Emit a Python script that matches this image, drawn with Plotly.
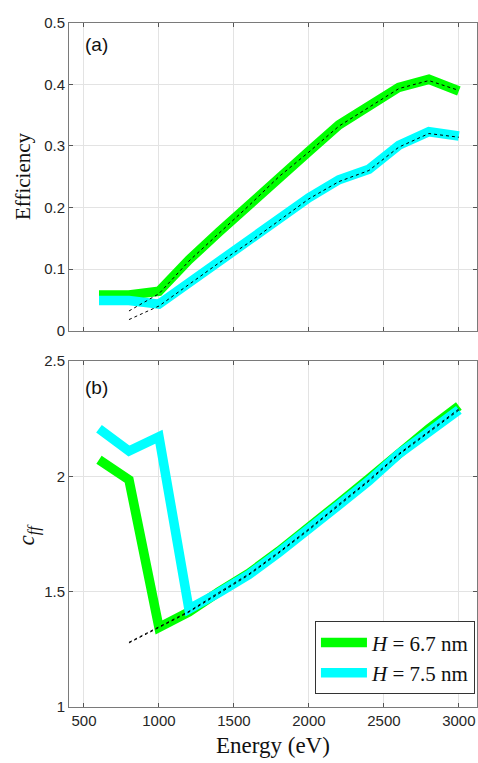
import plotly.graph_objects as go

# Photon energies (eV) of the simulated points and of the fitted curves
energy = [600, 800, 1000, 1200, 1400, 1600, 1800, 2000, 2200, 2400, 2600, 2800, 3000]
fit_energy = [800, 1000, 1200, 1400, 1600, 1800, 2000, 2200, 2400, 2600, 2800, 3000]

# (a) diffraction efficiency
eff_h67 = [0.058, 0.058, 0.064, 0.115, 0.160, 0.204, 0.252, 0.291, 0.334, 0.364, 0.395, 0.408, 0.389]
eff_h75 = [0.049, 0.049, 0.043, 0.077, 0.110, 0.144, 0.180, 0.216, 0.245, 0.262, 0.301, 0.323, 0.316]
eff_fit_h67 = [0.032, 0.060, 0.113, 0.158, 0.203, 0.250, 0.290, 0.332, 0.362, 0.393, 0.406, 0.390]
eff_fit_h75 = [0.018, 0.040, 0.075, 0.110, 0.143, 0.179, 0.214, 0.242, 0.260, 0.298, 0.320, 0.314]

# (b) fix-focus constant c_ff
cff_h67 = [2.072, 1.985, 1.345, 1.412, 1.500, 1.580, 1.676, 1.776, 1.884, 1.990, 2.102, 2.206, 2.305]
cff_h75 = [2.206, 2.110, 2.172, 1.425, 1.496, 1.574, 1.670, 1.769, 1.876, 1.980, 2.097, 2.192, 2.288]
cff_fit_h67 = [1.281, 1.349, 1.415, 1.497, 1.577, 1.672, 1.772, 1.879, 1.984, 2.098, 2.196, 2.292]
cff_fit_h75 = [1.278, 1.345, 1.412, 1.492, 1.573, 1.668, 1.768, 1.874, 1.979, 2.094, 2.191, 2.287]

x_ticks = [500, 1000, 1500, 2000, 2500, 3000]
eff_ticks = [0, 0.1, 0.2, 0.3, 0.4, 0.5]
eff_tick_text = ["0", "0.1", "0.2", "0.3", "0.4", "0.5"]
cff_ticks = [1, 1.5, 2, 2.5]
cff_tick_text = ["1", "1.5", "2", "2.5"]

GREEN = "#00ff00"
CYAN = "#00ffff"
BAND_W = 9.5
SERIF = "Liberation Serif"
SANS = "Liberation Sans"

fig = go.Figure()

# top panel
fig.add_trace(go.Scatter(x=energy, y=eff_h67, mode="lines", line=dict(color=GREEN, width=BAND_W),
                         showlegend=False, xaxis="x", yaxis="y"))
fig.add_trace(go.Scatter(x=energy, y=eff_h75, mode="lines", line=dict(color=CYAN, width=BAND_W),
                         showlegend=False, xaxis="x", yaxis="y"))
for fit in (eff_fit_h67, eff_fit_h75):
    fig.add_trace(go.Scatter(x=fit_energy, y=fit, mode="lines",
                             line=dict(color="black", width=1, dash="3px,3px"),
                             showlegend=False, xaxis="x", yaxis="y"))

# bottom panel
fig.add_trace(go.Scatter(x=energy, y=cff_h67, mode="lines", line=dict(color=GREEN, width=BAND_W),
                         name="<i>H</i> = 6.7 nm", xaxis="x2", yaxis="y2"))
fig.add_trace(go.Scatter(x=energy, y=cff_h75, mode="lines", line=dict(color=CYAN, width=BAND_W),
                         name="<i>H</i> = 7.5 nm", xaxis="x2", yaxis="y2"))
for fit in (cff_fit_h67, cff_fit_h75):
    fig.add_trace(go.Scatter(x=fit_energy, y=fit, mode="lines",
                             line=dict(color="black", width=1, dash="3px,3px"),
                             showlegend=False, xaxis="x2", yaxis="y2"))

axis_common = dict(
    showline=True, linecolor="#7a7a7a", linewidth=1, mirror="allticks",
    ticks="inside", ticklen=4, tickcolor="#555555", tickwidth=1,
    showgrid=True, gridcolor="#e3e3e3", gridwidth=1, zeroline=False,
    tickfont=dict(family=SANS, size=15, color="#262626"),
)

x_range = [400, 3121]
fig.update_layout(
    width=478, height=763,
    margin=dict(l=69, r=0, t=0, b=0),
    paper_bgcolor="white", plot_bgcolor="white",
    xaxis=dict(domain=[0, 1], range=x_range, tickvals=x_ticks, showticklabels=False,
               anchor="y", **axis_common),
    yaxis=dict(domain=[0.5688, 0.9817], range=[0, 0.5], tickvals=eff_ticks,
               ticktext=eff_tick_text, anchor="x", **axis_common),
    xaxis2=dict(domain=[0, 1], range=x_range, tickvals=x_ticks, anchor="y2",
                matches="x", **axis_common),
    yaxis2=dict(domain=[0.0642, 0.5282], range=[1, 2.5], tickvals=cff_ticks,
                ticktext=cff_tick_text, anchor="x2", **axis_common),
    legend=dict(x=0.995, y=0.0813, xanchor="right", yanchor="bottom",
                bgcolor="white", bordercolor="#333333", borderwidth=1,
                font=dict(family=SERIF, size=21, color="#111111"),
                itemwidth=46, tracegroupgap=0),
    showlegend=True,
)

annotations = [
    dict(text="(a)", x=0.034, y=0.953, xref="paper", yref="paper",
         xanchor="left", yanchor="middle", showarrow=False,
         font=dict(family=SANS, size=19, color="#111111")),
    dict(text="(b)", x=0.034, y=0.4932, xref="paper", yref="paper",
         xanchor="left", yanchor="middle", showarrow=False,
         font=dict(family=SANS, size=19, color="#111111")),
    dict(text="Efficiency", x=-0.113, y=0.776, xref="paper", yref="paper",
         xanchor="center", yanchor="middle", textangle=-90, showarrow=False,
         font=dict(family=SERIF, size=21, color="#111111")),
    dict(text="<i>c</i><sub><i>ff</i></sub>", x=-0.10, y=0.296, xref="paper", yref="paper",
         xanchor="center", yanchor="middle", textangle=-90, showarrow=False,
         font=dict(family=SERIF, size=23, color="#111111")),
    dict(text="Energy (eV)", x=0.5, y=0.013, xref="paper", yref="paper",
         xanchor="center", yanchor="middle", showarrow=False,
         font=dict(family=SERIF, size=23, color="#111111")),
]
fig.update_layout(annotations=annotations)

fig.write_html("out.html")
